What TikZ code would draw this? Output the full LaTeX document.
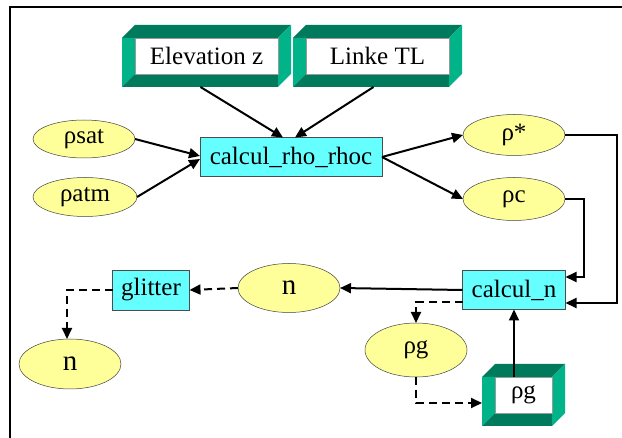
\documentclass[tikz,border=0pt]{standalone}
\usepackage{fontspec}
\setmainfont{Liberation Serif}
\newfontfamily\diagfont{Liberation Serif}
\usetikzlibrary{arrows.meta,shapes.geometric,calc}
\definecolor{ellfill}{HTML}{FFFF99}
\definecolor{boxfill}{HTML}{66FFFF}
\definecolor{bdark}{HTML}{007A5C}
\definecolor{bbright}{HTML}{00B388}
\newcommand\bevelnode[6]{%
  \fill[bdark] (#2,#3+13) -- (#2+13,#3) -- (#4,#3) -- (#4-13,#3+13) -- cycle;
  \fill[bbright] (#2,#3+13) -- (#2+13,#3+13) -- (#2+13,#5-13) -- (#2,#5) -- cycle;
  \fill[bdark] (#2,#5) -- (#2+13,#5-13) -- (#4-13,#5-13) -- (#4-13,#5) -- cycle;
  \fill[bbright] (#4,#3) -- (#4,#5-13) -- (#4-13,#5) -- (#4-13,#3+13) -- cycle;
  \fill[white] (#2+13,#3+13) rectangle (#4-13,#5-13);
  \draw[black!40,line width=0.4pt] (#2+13,#3+13) rectangle (#4-13,#5-13);
  \node[bevel,minimum width={(#4)-(#2)},minimum height={(#5)-(#3)}] (#1) at ({((#2)+(#4))/2},{((#3)+(#5))/2}) {#6};
}
\begin{document}
\begin{tikzpicture}[x=1pt,y=-1pt,
  txt/.style={font=\diagfont\fontsize{25}{28}\selectfont},
  bevel/.style={txt,inner sep=0pt,outer sep=0pt},
  ell/.style={txt,ellipse,draw=black!75,line width=0.5pt,fill=ellfill,inner sep=0pt,outer sep=0pt},
  proc/.style={txt,rectangle,draw=black!70,line width=0.5pt,fill=boxfill,inner sep=0pt,outer sep=0pt},
  arr/.style={line width=2pt,-{Triangle[length=11pt,width=10pt]}},
  darr/.style={arr,dash pattern=on 8pt off 5pt}]
\useasboundingbox (0,0) rectangle (622,438);
\fill[white] (0,0) rectangle (622,438);
\draw[line width=1.2pt] (10,438) -- (10,7) -- (622,7);

\bevelnode{elev}{122}{25}{291}{87}{Elevation z}
\bevelnode{linke}{293}{25}{462}{87}{Linke TL}
\bevelnode{rgbox}{482}{364}{565}{426}{\raisebox{-3pt}{ρg}}

\node[proc,minimum width=182pt,minimum height=39pt] (calc) at (291,157) {calcul\_rho\_rhoc};
\node[proc,minimum width=103pt,minimum height=39pt] (calcn) at (514,290) {calcul\_n};
\node[proc,minimum width=77pt,minimum height=40pt] (glitter) at (151,290) {glitter};

\node[ell,minimum width=102pt,minimum height=38pt] (rsat) at (84,139) {ρsat};
\node[ell,minimum width=104pt,minimum height=39pt] (ratm) at (85,197) {ρatm};
\node[ell,minimum width=102pt,minimum height=41pt] (rstar) at (514,135) {ρ*};
\node[ell,minimum width=102pt,minimum height=43pt] (rc) at (514,199) {ρc};
\node[ell,minimum width=102pt,minimum height=49pt] (nmid) at (289,288) {\fontsize{29}{32}\selectfont n};
\node[ell,minimum width=102pt,minimum height=50pt] (nbot) at (70,364) {\fontsize{29}{32}\selectfont n};
\node[ell,minimum width=102pt,minimum height=54pt] (rgell) at (416,350) {ρg};

\draw[arr] ($(elev.south)+(-6,0)$) -- ($(calc.north)+(-8,0)$);
\draw[arr] ($(linke.south)+(-4,0)$) -- ($(calc.north)+(4,0)$);
\draw[arr] (rsat.east) -- ($(calc.west)+(0,-1)$);
\draw[arr] (ratm.east) -- ($(calc.west)+(0,2)$);
\draw[arr] (calc.east) -- (rstar.west);
\draw[arr] (calc.east) -- (rc.west);
\draw[arr] (rstar.east) -- ++(52,0) |- ($(calcn.east)+(0,13)$);
\draw[arr] (rc.east) -- ++(19,0) |- ($(calcn.east)+(0,-13)$);
\draw[arr] (calcn.west) -- (nmid.east);
\draw[darr] (nmid.west) -- (glitter.east);
\draw[darr] (glitter.west) -| ($(nbot.north)+(-3,0)$);
\draw[darr] ($(calcn.west)+(0,12)$) -| (rgell.north);
\draw[darr] (rgell.south) |- ($(rgbox.west)+(0,8)$);
\draw[arr] ($(rgbox.north -| calcn.south)+(0,13)$) -- (calcn.south);
\end{tikzpicture}
\end{document}
